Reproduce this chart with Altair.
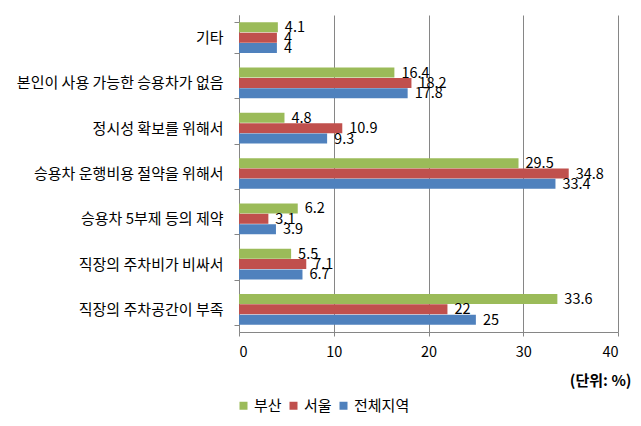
import altair as alt
import pandas as pd

categories = ["기타", "본인이 사용 가능한 승용차가 없음", "정시성 확보를 위해서",
              "승용차 운행비용 절약을 위해서", "승용차 5부제 등의 제약",
              "직장의 주차비가 비싸서", "직장의 주차공간이 부족"]
series = ["부산", "서울", "전체지역"]
busan = [4.1, 16.4, 4.8, 29.5, 6.2, 5.5, 33.6]
seoul = [4, 18.2, 10.9, 34.8, 3.1, 7.1, 22]
total = [4, 17.8, 9.3, 33.4, 3.9, 6.7, 25]
colors = ["#9BBB59", "#C0504D", "#4F81BD"]
x_ticks = [0, 10, 20, 30, 40]

rows = []
for s, vals in zip(series, [busan, seoul, total]):
    for c, v in zip(categories, vals):
        rows.append({"category": c, "series": s, "value": v,
                     "label": ("%g" % v)})
df = pd.DataFrame(rows)

FONT = "Noto Sans CJK KR"

y_enc = alt.Y("category:N", sort=categories,
              scale=alt.Scale(paddingInner=0.315, paddingOuter=0.1575),
              axis=alt.Axis(title=None, tickBand="extent", domainColor="#868686",
                            tickColor="#868686", tickSize=5, labelPadding=11,
                            labelFontSize=15, labelColor="#000000", labelFont=FONT,
                            labelLimit=300, grid=False))
yoff = alt.YOffset("series:N", sort=series)
x_enc = alt.X("value:Q", scale=alt.Scale(domain=[0, 40], nice=False),
              axis=alt.Axis(values=x_ticks, title="(단위: %)", titleFont=FONT,
                            titleFontSize=15, titleFontWeight="bold",
                            titleColor="#000000", titleX=392, titleY=48,
                            titleAlign="right", titleBaseline="middle",
                            grid=True, gridColor="#868686", gridWidth=1,
                            domainColor="#868686", tickColor="#868686", tickSize=4,
                            labelPadding=9, labelFontSize=14.5, labelFont=FONT,
                            labelColor="#000000"))

bars = alt.Chart(df).mark_bar(size=10).encode(
    x=x_enc, y=y_enc, yOffset=yoff,
    color=alt.Color("series:N", sort=series,
                    scale=alt.Scale(domain=series, range=colors),
                    legend=alt.Legend(title=None, orient="none", legendX=-3, legendY=383,
                                      direction="horizontal", symbolType="square",
                                      symbolSize=64, symbolStrokeWidth=0,
                                      labelFont=FONT, labelFontSize=15,
                                      labelColor="#000000", columnPadding=4,
                                      symbolOffset=0, labelOffset=3)),
)

labels = alt.Chart(df).mark_text(align="left", baseline="middle", dx=7, dy=1,
                                 font=FONT, fontSize=14.5, color="#000000").encode(
    x="value:Q", y=alt.Y("category:N", sort=categories), yOffset=yoff, text="label:N")

chart = alt.layer(bars, labels).properties(
    width=379, height=317,
    autosize=alt.AutoSizeParams(type="none"),
    padding={"left": 239, "top": 15, "right": 23, "bottom": 94},
    background="white",
).configure_view(stroke=None)

chart.save("out.html", embed_options={"renderer": "svg", "actions": False})
